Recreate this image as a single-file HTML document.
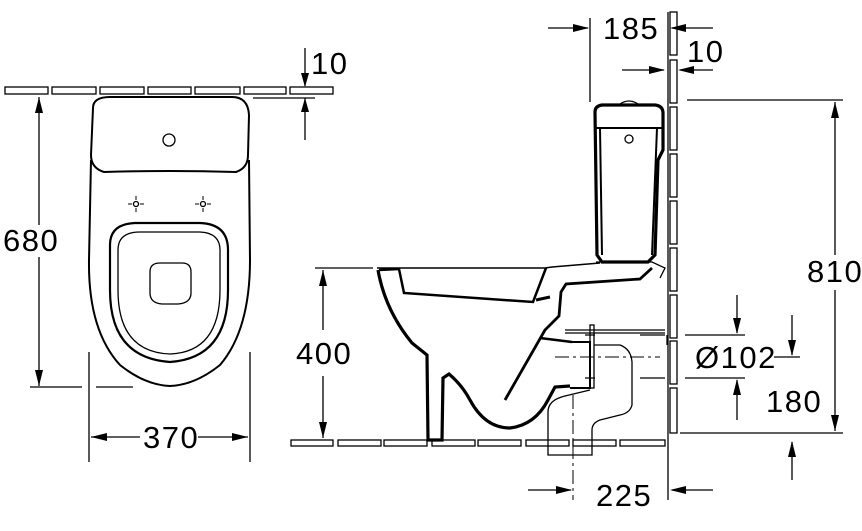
<!DOCTYPE html>
<html><head><meta charset="utf-8"><style>
html,body{margin:0;padding:0;background:#fff;}
svg{display:block;}
text{font-family:"Liberation Sans",sans-serif;font-size:31px;letter-spacing:1.5px;fill:#000;}
</style></head><body>
<svg width="862" height="531" viewBox="0 0 862 531" xmlns="http://www.w3.org/2000/svg">
<g fill="none" stroke="#000" stroke-width="1.3">
<rect x="5" y="87" width="43" height="7"/><rect x="52" y="87" width="44" height="7"/><rect x="100" y="87" width="44" height="7"/><rect x="148" y="87" width="43" height="7"/><rect x="195" y="87" width="45" height="7"/><rect x="244" y="87" width="42" height="7"/><rect x="290" y="87" width="43" height="7"/>
<path d="M93,108 Q93,97 110,97 L232,97 Q248,97 249,115 L248,155 Q248,168 236,172 Q170,170 104,172 Q91,168 91,155 Z" stroke-width="2"/>
<path d="M91,160 L89,260 Q88,330 120,365 Q145,385 170,386 Q195,385 220,365 Q250,330 250,260 L249,160" stroke-width="2"/>
<circle cx="169" cy="140" r="6"/>
<circle cx="136" cy="204" r="2.5"/><circle cx="203" cy="204" r="2.5"/>
<path d="M128,204h4M140,204h4M136,196v4M136,208v4M195,204h4M207,204h4M203,196v4M203,208v4" stroke-width="1"/>
<path d="M110,245 Q110,224 135,223 L200,223 Q228,224 228,250 L228,290 Q228,358 170,362 Q110,358 110,290 Z" stroke-width="2.2"/>
<path d="M118,250 Q118,232 140,232 L200,232 Q221,233 220,252 L220,290 Q220,352 170,354 Q118,352 118,290 Z"/>
<path d="M150,272 Q150,263 160,263 L182,263 Q191,263 191,272 L191,293 Q191,303 178,304 L162,304 Q150,303 150,293 Z"/>
<path d="M39,97V225M39,257V386"/>
<path d="M30,387H82M96,387H133"/>
<path d="M89,352V462M250,352V462"/>
<path d="M91,437H140M198,437H248"/>
<path d="M305,48V86M305,140V98M253,98H315"/>
<rect x="291" y="440" width="42" height="6"/><rect x="338" y="440" width="43" height="6"/><rect x="384" y="440" width="43" height="6"/><rect x="432" y="440" width="43" height="6"/><rect x="478" y="440" width="43" height="6"/><rect x="526" y="440" width="43" height="6"/><rect x="573" y="440" width="43" height="6"/><rect x="620" y="440" width="45" height="6"/>
<path d="M668,12V445"/>
<rect x="670" y="12" width="7" height="43"/><rect x="670" y="60" width="7" height="43"/><rect x="670" y="107" width="7" height="43"/><rect x="670" y="154" width="7" height="43"/><rect x="670" y="201" width="7" height="43"/><rect x="670" y="248" width="7" height="43"/><rect x="670" y="295" width="7" height="43"/><rect x="670" y="341" width="7" height="43"/><rect x="670" y="388" width="7" height="45"/>
<path d="M668,445V500"/>
<path d="M315,268H373M323,270V330M323,376V438"/>
<path d="M377,268H545L552,267L600,263" stroke-width="1.5"/>
<path d="M378,270 Q385,310 412,343 L427,355 L428,440 L442,440 L443,378 L449,374 Q462,385 470,400 Q485,428 510,428 Q535,425 548,400 L555,387 L570,386" stroke-width="3.2"/>
<path d="M379,270 L399,269 L404,293 L533,302 L546,268" stroke-width="2.5"/>
<path d="M505,400 L545,330 L559,316 L561,292 L566,284 L640,279 L652,268" stroke-width="2.8"/>
<path d="M540,338 L572,342" stroke-width="2.5"/>
<path d="M536,300 L550,297" stroke-width="3"/>
<path d="M595,112 Q595,106 602,105 L655,105 Q663,106 663,113 L663,150 L658,160 L655,255 L648,262 L602,262 L597,255 Z" stroke-width="3.2"/>
<path d="M596,128H663" stroke-width="2"/>
<path d="M600,128 L602,255 M657,128 L652,255" stroke-width="2"/>
<circle cx="629" cy="139" r="4"/>
<path d="M620,104 Q629,98 638,104"/>
<path d="M596,262 L652,262 L665,268 L660,278"/>
<path d="M565,330H665M565,333H665" stroke-width="1.2"/>
<rect x="590" y="325" width="4" height="63"/>
<path d="M570,342 L590,342 L590,388 L570,388" stroke-width="2"/>
<path d="M594,345 L620,345 Q631,349 632,362 L632,405 Q630,413 620,415 L600,420 Q592,423 592,430 L592,455 L548,455 L548,412 Q548,400 565,396 L590,390"/>
<path d="M667,335V345"/>
<path d="M555,357H660" stroke-dasharray="14,4,3,4" stroke-width="1"/>
<path d="M573,395V500" stroke-dasharray="14,4,3,4" stroke-width="1"/>
<path d="M585,335H595M640,335H665M685,335H745M585,378H595M640,378H665M685,378H745" stroke-width="1.2"/>
<path d="M590,18V102M548,28H588M713,28H672M622,70H664M713,70H680"/>
<path d="M687,100H843M680,433H843M835,102V255M835,290V431"/>
<path d="M737,295V333M737,420V380M792,315V355M774,357H800M792,480V442"/>
<path d="M528,490H571M713,490H672"/>
</g>
<g fill="#000">
<path d="M39,97l-4,16h8z M39,386l-4,-16h8z"/>
<path d="M91,437l16,-4v8z M248,437l-16,-4v8z"/>
<path d="M305,87l-4,-14h8z M305,98l-4,14h8z"/>
<path d="M323,270l-4,16h8z M323,438l-4,-16h8z"/>
<path d="M589,28l-16,-4v8z M670,28l16,-4v8z"/>
<path d="M665,70l-16,-4v8z M678,70l16,-4v8z"/>
<path d="M835,102l-4,16h8z M835,431l-4,-16h8z"/>
<path d="M737,334l-4,-16h8z M737,379l-4,16h8z"/>
<path d="M792,356l-4,-16h8z M792,441l-4,16h8z"/>
<path d="M572,490l-16,-4v8z M670,490l16,-4v8z"/>
</g>
<text x="3" y="251">680</text>
<text x="143" y="448">370</text>
<text x="311" y="74">10</text>
<text x="296" y="364">400</text>
<text x="603" y="39">185</text>
<text x="687" y="62">10</text>
<text x="807" y="282">810</text>
<text x="695" y="368">Ø102</text>
<text x="766" y="412">180</text>
<text x="596" y="506">225</text>
</svg>
</body></html>
